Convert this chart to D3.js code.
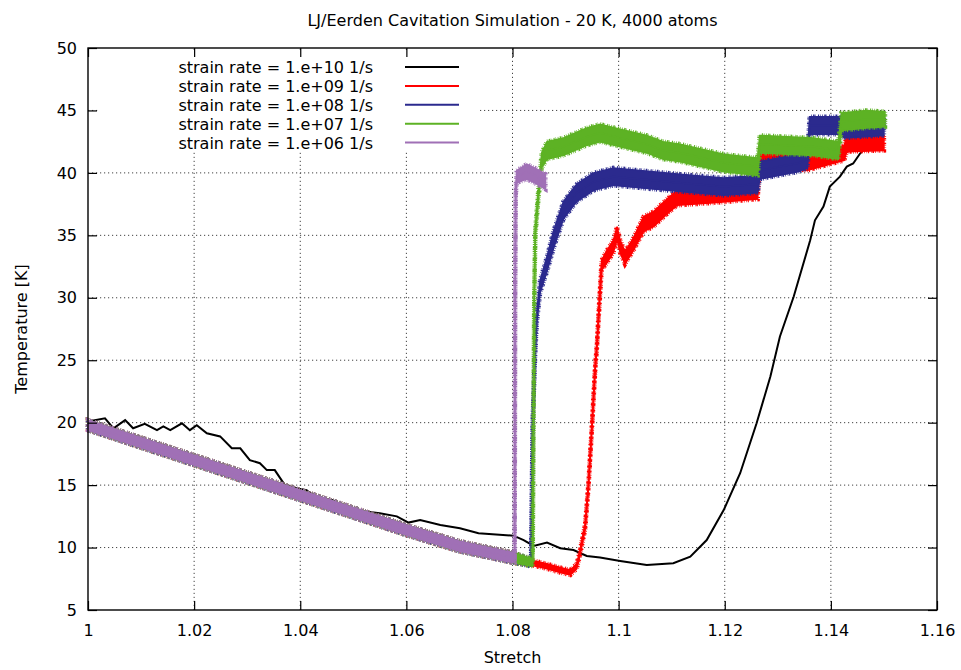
<!DOCTYPE html>
<html>
<head>
<meta charset="utf-8">
<script src="https://cdn.jsdelivr.net/npm/d3@7"></script>
<style>
body { margin: 0; background: #fff; }
text { font-family: "DejaVu Sans", sans-serif; fill: #000; }
</style>
</head>
<body>
<script>
const width = 961, height = 670;
const margin = {left: 88, right: 24, top: 48, bottom: 60};

const xTicks = [1, 1.02, 1.04, 1.06, 1.08, 1.1, 1.12, 1.14, 1.16];
const yTicks = [5, 10, 15, 20, 25, 30, 35, 40, 45, 50];

const seriesLabels = ['strain rate = 1.e+10 1/s', 'strain rate = 1.e+09 1/s', 'strain rate = 1.e+08 1/s',
  'strain rate = 1.e+07 1/s', 'strain rate = 1.e+06 1/s'];
const seriesColors = ['#000000', '#ff0000', '#2b2a8e', '#5db224', '#a070b6'];

// shared cooling trend before cavitation (all noisy runs sit on it)
const trendStretch = [1.0, 1.01, 1.02, 1.03, 1.04, 1.05, 1.06, 1.07, 1.08];
const trendTemp    = [19.8, 18.4, 17.0, 15.6, 14.2, 12.8, 11.4, 10.1, 9.2];
const trendSpread  = [0.4, 0.4, 0.4, 0.4, 0.4, 0.4, 0.4, 0.4, 0.4];

// 1e10 (smooth)
const blackStretch = [1.0, 1.0032, 1.0048, 1.007, 1.0085, 1.0107, 1.013, 1.0142, 1.0155, 1.0177, 1.0192, 1.0205,
  1.0224, 1.0249, 1.0271, 1.0287, 1.0305, 1.0324, 1.0337, 1.0352, 1.0371, 1.0393, 1.0412, 1.0431, 1.0462, 1.0481,
  1.0519, 1.055, 1.0582, 1.0604, 1.0626, 1.0664, 1.0701, 1.0736, 1.0802, 1.0821, 1.084, 1.0865, 1.089, 1.0915,
  1.094, 1.0965, 1.1003, 1.1053, 1.1103, 1.1135, 1.1166, 1.1198, 1.1229, 1.126, 1.1286, 1.1304, 1.133, 1.1361,
  1.137, 1.1386, 1.1398, 1.1417, 1.143, 1.1442, 1.1455, 1.1474, 1.149];
const blackTemp = [20.1, 20.35, 19.55, 20.2, 19.55, 19.9, 19.4, 19.7, 19.4, 19.95, 19.4, 19.8,
  19.15, 18.9, 17.95, 17.95, 17.0, 16.75, 16.2, 16.2, 15.0, 14.75, 14.6, 13.95, 13.8, 13.3,
  12.9, 12.75, 12.5, 12.0, 12.2, 11.8, 11.55, 11.15, 10.95, 10.6, 10.13, 10.4, 9.95, 9.8,
  9.33, 9.2, 8.93, 8.6, 8.75, 9.27, 10.6, 13.0, 15.95, 19.95, 23.7, 26.9, 30.1, 34.6,
  36.2, 37.3, 38.9, 39.7, 40.5, 40.75, 41.55, 42.4, 42.8];

// 1e9
const redStretch = [1.084, 1.0865, 1.089, 1.0909, 1.0921, 1.0927, 1.0937, 1.0943, 1.0949, 1.0956, 1.0959, 1.0964,
  1.0968, 1.0978, 1.099, 1.0997, 1.1003, 1.1012, 1.1028, 1.1047, 1.1066, 1.1091, 1.111, 1.118, 1.1262, 1.1265,
  1.131, 1.1355, 1.1425, 1.143, 1.15];
const redTemp = [8.75, 8.5, 8.2, 8.0, 8.5, 9.55, 11.7, 14.9, 19.15, 24.5, 26.1, 29.8,
  32.6, 33.3, 34.1, 35.2, 34.1, 33.2, 34.3, 35.9, 36.3, 37.3, 38.0, 38.2, 38.5, 40.9,
  41.0, 40.8, 41.6, 42.3, 42.4];
const redSpread = [0.2, 0.2, 0.2, 0.2, 0.2, 0.2, 0.2, 0.2, 0.2, 0.2, 0.2, 0.3,
  0.4, 0.5, 0.5, 0.5, 0.5, 0.5, 0.5, 0.6, 0.6, 0.6, 0.6, 0.6, 0.6, 0.6,
  0.6, 0.6, 0.6, 0.6, 0.6];

// 1e8
const blueStretch = [1.0835, 1.0838, 1.0843, 1.0846, 1.0852, 1.0865, 1.0877, 1.0896, 1.0921, 1.0953, 1.099, 1.104,
  1.1091, 1.1116, 1.1198, 1.1262, 1.1266, 1.134, 1.1356, 1.136, 1.1418, 1.1425, 1.15];
const blueTemp = [8.8, 20.0, 26.1, 28.5, 30.9, 32.7, 34.6, 37.0, 38.4, 39.3, 39.7, 39.5,
  39.3, 39.2, 38.9, 39.1, 40.2, 40.8, 41.1, 43.8, 43.8, 43.4, 43.6];
const blueSpread = [0.3, 0.2, 0.3, 0.4, 0.5, 0.6, 0.7, 0.7, 0.7, 0.7, 0.7, 0.7,
  0.7, 0.7, 0.7, 0.7, 0.7, 0.7, 0.7, 0.7, 0.7, 0.6, 0.6];

// 1e7
const greenStretch = [1.0838, 1.0841, 1.0843, 1.0849, 1.0855, 1.0865, 1.0896, 1.094, 1.0965, 1.1003, 1.1053, 1.1084,
  1.1116, 1.1198, 1.1262, 1.1266, 1.1367, 1.1414, 1.142, 1.1467, 1.1502];
const greenTemp = [8.8, 30.0, 35.2, 38.4, 41.0, 41.8, 42.1, 42.9, 43.2, 42.8, 42.3, 41.8,
  41.6, 40.8, 40.5, 42.3, 42.1, 41.8, 44.1, 44.3, 44.3];
const greenSpread = [0.3, 0.2, 0.3, 0.4, 0.6, 0.7, 0.7, 0.7, 0.7, 0.7, 0.7, 0.7,
  0.7, 0.7, 0.7, 0.7, 0.7, 0.7, 0.7, 0.7, 0.6];

// 1e6
const purpleStretch = [1.0804, 1.0805, 1.0806, 1.0808, 1.0827, 1.0846, 1.0862];
const purpleTemp = [9.1, 30.0, 38.4, 39.7, 40.1, 39.7, 39.3];
const purpleSpread = [0.3, 0.2, 0.3, 0.5, 0.6, 0.6, 0.6];

const svg = d3.select('body').append('svg')
  .attr('width', width).attr('height', height);

const x = d3.scaleLinear().domain([1, 1.16]).range([margin.left, width - margin.right]);
const y = d3.scaleLinear().domain([5, 50]).range([height - margin.bottom, margin.top]);
const x0 = margin.left, x1 = width - margin.right, y0 = height - margin.bottom, y1 = margin.top;

// grid
svg.append('g').selectAll('line').data(xTicks.slice(1, -1)).enter().append('line')
  .attr('x1', d => x(d)).attr('x2', d => x(d)).attr('y1', y0).attr('y2', y1)
  .attr('stroke', '#444').attr('stroke-width', 1).attr('stroke-dasharray', '1.2,2.8');
svg.append('g').selectAll('line').data(yTicks.slice(1, -1)).enter().append('line')
  .attr('y1', d => y(d)).attr('y2', d => y(d)).attr('x1', x0).attr('x2', x1)
  .attr('stroke', '#444').attr('stroke-width', 1).attr('stroke-dasharray', '1.2,2.8');

// legend background (opaque key)
svg.append('rect').attr('x', x0 + 10).attr('y', y1 + 2).attr('width', 382).attr('height', 102).attr('fill', '#fff');

const zip = (xs, ys, ss) => xs.map((v, i) => ({s: v, t: ys[i], d: ss ? ss[i] : 0}));
const withTrend = (xs, ys, ss) => zip(trendStretch, trendTemp, trendSpread).concat(zip(xs, ys, ss));

const area = d3.area().x(d => x(d.s)).y0(d => y(d.t - d.d)).y1(d => y(d.t + d.d));
const line = d3.line().x(d => x(d.s)).y(d => y(d.t));

const plot = svg.append('g');
plot.append('path').datum(zip(blackStretch, blackTemp))
  .attr('d', line).attr('fill', 'none').attr('stroke', seriesColors[0]).attr('stroke-width', 2);

const noisy = [
  [redStretch, redTemp, redSpread, 1],
  [blueStretch, blueTemp, blueSpread, 2],
  [greenStretch, greenTemp, greenSpread, 3],
  [purpleStretch, purpleTemp, purpleSpread, 4]
];
noisy.forEach(([xs, ys, ss, k]) => {
  const pts = withTrend(xs, ys, ss);
  // ragged outline (uneven dashes) to suggest the thermal noise at the band edges
  plot.append('path').datum(pts).attr('d', area).attr('fill', seriesColors[k])
    .attr('stroke', seriesColors[k]).attr('stroke-width', 4.5)
    .attr('stroke-dasharray', '0.7,1.3,1.6,0.6,0.5,2.2,1.1,0.9,0.6,1.7');
  plot.append('path').datum(pts).attr('d', area).attr('fill', seriesColors[k])
    .attr('stroke', seriesColors[k]).attr('stroke-width', 1.5);
  plot.append('path').datum(pts).attr('d', line).attr('fill', 'none')
    .attr('stroke', seriesColors[k]).attr('stroke-width', 1.6);
});

// axes: ticks point inward on all four sides
const tickLen = 9;
const fmt = d => d3.format('')(+d.toFixed(2));
svg.append('g').attr('transform', `translate(0,${y0})`)
  .call(d3.axisBottom(x).tickValues(xTicks).tickSizeInner(-tickLen).tickSizeOuter(0).tickPadding(15).tickFormat(fmt))
  .call(g => g.select('.domain').remove());
svg.append('g').attr('transform', `translate(0,${y1})`)
  .call(d3.axisTop(x).tickValues(xTicks).tickSizeInner(-tickLen).tickSizeOuter(0).tickFormat(''))
  .call(g => g.select('.domain').remove());
svg.append('g').attr('transform', `translate(${x0},0)`)
  .call(d3.axisLeft(y).tickValues(yTicks).tickSizeInner(-tickLen).tickSizeOuter(0).tickPadding(11))
  .call(g => g.select('.domain').remove());
svg.append('g').attr('transform', `translate(${x1},0)`)
  .call(d3.axisRight(y).tickValues(yTicks).tickSizeInner(-tickLen).tickSizeOuter(0).tickFormat(''))
  .call(g => g.select('.domain').remove());
svg.selectAll('.tick line').attr('stroke', '#000').attr('stroke-width', 1.2);
svg.selectAll('.tick text').style('font-family', '"DejaVu Sans", sans-serif').style('font-size', '16px').attr('fill', '#000');

svg.append('rect').attr('x', x0).attr('y', y1).attr('width', x1 - x0).attr('height', y0 - y1)
  .attr('fill', 'none').attr('stroke', '#000').attr('stroke-width', 1.4);

// legend
const legend = svg.append('g');
seriesLabels.forEach((lab, i) => {
  const ly = 67 + i * 18.9;
  legend.append('text').attr('x', 373).attr('y', ly + 6).attr('text-anchor', 'end')
    .style('font-size', '16px').text(lab);
  legend.append('line').attr('x1', 405).attr('x2', 459).attr('y1', ly).attr('y2', ly)
    .attr('stroke', seriesColors[i]).attr('stroke-width', 2);
});

// titles
svg.append('text').attr('x', (x0 + x1) / 2).attr('y', 26).attr('text-anchor', 'middle')
  .style('font-size', '16px').text('LJ/Eerden Cavitation Simulation - 20 K, 4000 atoms');
svg.append('text').attr('x', (x0 + x1) / 2).attr('y', 663).attr('text-anchor', 'middle')
  .style('font-size', '16px').text('Stretch');
svg.append('text').attr('transform', `translate(27,${(y0 + y1) / 2}) rotate(-90)`).attr('text-anchor', 'middle')
  .style('font-size', '16px').text('Temperature [K]');
</script>
</body>
</html>
